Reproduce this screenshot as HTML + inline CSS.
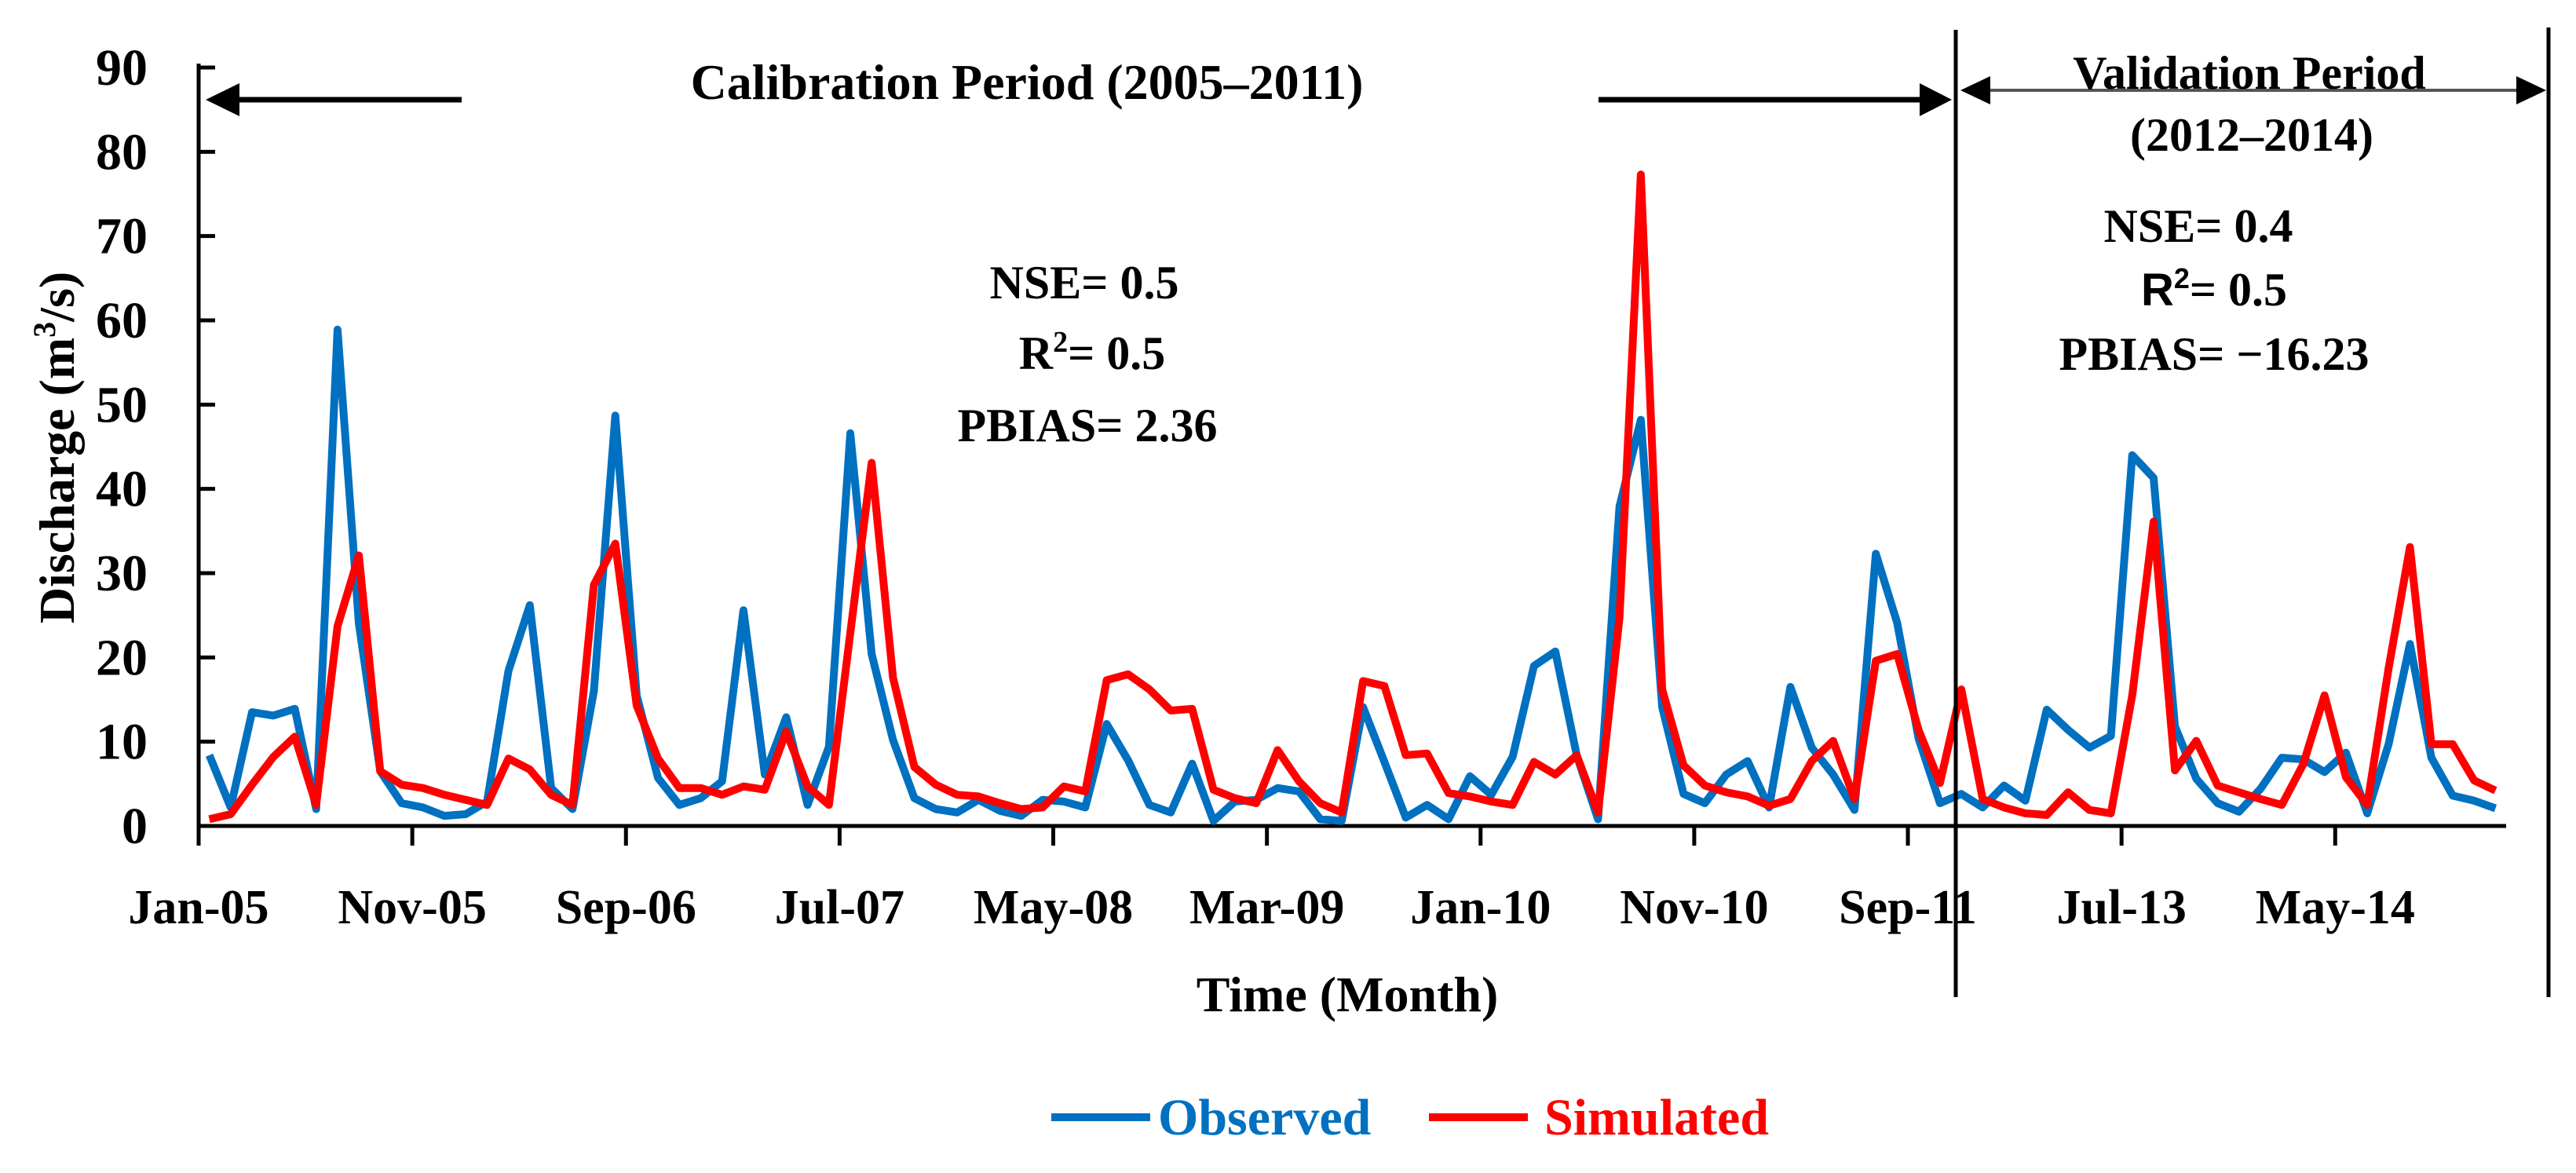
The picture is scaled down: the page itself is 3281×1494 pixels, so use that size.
<!DOCTYPE html>
<html><head><meta charset="utf-8"><style>
html,body{margin:0;padding:0;background:#fff;}
svg{display:block;}
text{font-family:"Liberation Serif",serif;font-weight:bold;fill:#000;}
</style></head><body>
<svg id="chart" width="3281" height="1494" viewBox="0 0 3281 1494" xmlns="http://www.w3.org/2000/svg">
<g id="axes"></g>
<g id="series"></g>
<g id="annot">
  <text x="1308" y="126" font-size="64" text-anchor="middle">Calibration Period (2005–2011)</text>
  <line x1="588" y1="127" x2="290" y2="127" stroke="#000" stroke-width="7"/>
  <polygon points="262,127 305,106 305,148" fill="#000"/>
  <line x1="2036" y1="127" x2="2455" y2="127" stroke="#000" stroke-width="7"/>
  <polygon points="2486,127 2445,106 2445,148" fill="#000"/>
  <line x1="2491" y1="38" x2="2491" y2="1270" stroke="#000" stroke-width="5"/>
  <line x1="3246" y1="35" x2="3246" y2="1270" stroke="#000" stroke-width="5"/>
  <line x1="2525" y1="115" x2="3215" y2="115" stroke="#555" stroke-width="4"/>
  <polygon points="2497,115 2535,97 2535,133" fill="#000"/>
  <polygon points="3243,115 3205,97 3205,133" fill="#000"/>
  <text x="2865" y="113" font-size="60" text-anchor="middle">Validation Period</text>
  <text x="2868" y="192" font-size="60" text-anchor="middle">(2012–2014)</text>
  <text x="1381" y="380" font-size="60" text-anchor="middle">NSE= 0.5</text>
  <text x="1391" y="470" font-size="60" text-anchor="middle">R<tspan font-size="38" dy="-22">2</tspan><tspan dy="22">= 0.5</tspan></text>
  <text x="1385" y="562" font-size="60" text-anchor="middle">PBIAS= 2.36</text>
  <text x="2800" y="308" font-size="60" text-anchor="middle">NSE= 0.4</text>
  <text x="2820" y="389" font-size="58" text-anchor="middle" style="font-family:'Liberation Sans',sans-serif">R<tspan font-size="36" dy="-22">2</tspan><tspan dy="22" style="font-family:'Liberation Serif',serif" font-size="60">= 0.5</tspan></text>
  <text x="2820" y="471" font-size="60" text-anchor="middle">PBIAS= −16.23</text>
  <text x="1716" y="1288" font-size="64" text-anchor="middle">Time (Month)</text>
  <text transform="translate(94,570) rotate(-90)" font-size="64" text-anchor="middle">Discharge (m<tspan font-size="40" dy="-24">3</tspan><tspan dy="24">/s)</tspan></text>
  <g>
    <line x1="1339" y1="1423" x2="1465" y2="1423" stroke="#0070C0" stroke-width="10"/>
    <text x="1475" y="1445" font-size="66" style="fill:#0070C0">Observed</text>
    <line x1="1820" y1="1423" x2="1946" y2="1423" stroke="#FF0000" stroke-width="10"/>
    <text x="1967" y="1445" font-size="66" style="fill:#FF0000">Simulated</text>
  </g>
</g>
</svg>
<script>
const observed = [8.4,2.2,13.5,13.1,13.9,2,58.9,24,6.5,2.7,2.2,1.2,1.4,2.9,18.4,26.2,4.5,2,16,48.7,15.5,5.7,
2.5,3.3,5.3,25.6,6.1,12.9,2.5,9.4,46.6,20.4,10.2,3.3,2,1.6,3.1,1.8,1.2,3.1,2.9,2.2,12.1,
7.8,2.5,1.6,7.4,0.6,2.9,3.1,4.5,4.1,0.8,0.6,14.1,7.6,1,2.5,0.8,5.9,3.7,8.2,19,20.7,8.4,
0.8,37.9,48.2,14.1,3.8,2.7,6.1,7.7,2.2,16.5,9.3,6.1,1.9,32.3,24.1,10.4,2.7,3.8,2.2,4.8,3,
13.8,11.4,9.3,10.7,44,41.3,11.8,5.6,2.7,1.7,4.4,8.1,7.9,6.4,8.7,1.5,9.7,21.6,8.1,3.6,3,2.1];
const simulated = [0.8,1.4,4.9,8.2,10.6,2.5,23.7,32.1,6.5,4.9,4.5,3.7,3.1,2.5,8,6.7,3.7,2.5,28.6,33.5,14.3,8,
4.5,4.5,3.7,4.7,4.3,11.2,4.7,2.5,22.9,43.1,17.6,7,4.9,3.7,3.5,2.7,2,2.2,4.7,4.1,17.3,
18,16.2,13.7,13.9,4.3,3.3,2.7,9,5.3,2.7,1.6,17.2,16.6,8.4,8.6,3.9,3.5,2.9,2.5,7.6,6.1,8.4,
1.6,24.7,77.3,16.2,7.2,4.8,4,3.5,2.4,3.2,7.7,10.1,3.2,19.6,20.4,11.4,5.1,16.2,3.2,2.2,1.5,
1.3,4,1.9,1.5,15.5,36.1,6.6,10.1,4.8,4,3.2,2.5,7.3,15.5,5.8,2.5,18.7,33.1,9.7,9.7,5.4,4.2];
const xTickLabels = ["Jan-05","Nov-05","Sep-06","Jul-07","May-08","Mar-09","Jan-10","Nov-10","Sep-11","Jul-13","May-14"];
const yTicks = [0,10,20,30,40,50,60,70,80,90];

const NS='http://www.w3.org/2000/svg';
const X0=253, X1=3192, Y0=1052, YTOP=86, YMAX=90;
const N=observed.length;
const cw=(X1-X0)/N;
const xScale=i=>X0+cw*(i+0.5);
const yScale=v=>Y0-(v/YMAX)*(Y0-YTOP);
function mk(tag,attrs,parent){const e=document.createElementNS(NS,tag);for(const k in attrs)e.setAttribute(k,attrs[k]);parent.appendChild(e);return e;}
const axes=document.getElementById('axes');
const ya=mk('line',{x1:X0,y1:YTOP-5,x2:X0,y2:Y0+2,stroke:'#000','stroke-width':5},axes);


const xa=mk('line',{x1:X0-2,y1:Y0,x2:X1,y2:Y0,stroke:'#000','stroke-width':5},axes);


yTicks.forEach(v=>{
  const y=yScale(v);
  const t=mk('line',{x1:X0,y1:y,x2:X0+21,y2:y,stroke:'#000','stroke-width':5},axes);
  
  
  const l=mk('text',{x:188,y:y+22,'font-size':66,'text-anchor':'end'},axes);
  l.textContent=v;
  
  
});
xTickLabels.forEach((lab,k)=>{
  const x=X0+cw*k*10;
  const t=mk('line',{x1:x,y1:Y0,x2:x,y2:Y0+25,stroke:'#000','stroke-width':5},axes);
  
  
  const l=mk('text',{x:x,y:1176,'font-size':62,'text-anchor':'middle'},axes);
  l.textContent=lab;
  
  
});
const ser=document.getElementById('series');
function line(data,color,name){
  const pts=data.map((v,i)=>xScale(i).toFixed(1)+','+yScale(v).toFixed(1)).join(' ');
  const p=mk('polyline',{points:pts,fill:'none',stroke:color,'stroke-width':10,'stroke-linejoin':'round'},ser);
  
  
}
line(observed,'#0070C0','observed-line');
line(simulated,'#FF0000','simulated-line');
</script>
</body></html>
